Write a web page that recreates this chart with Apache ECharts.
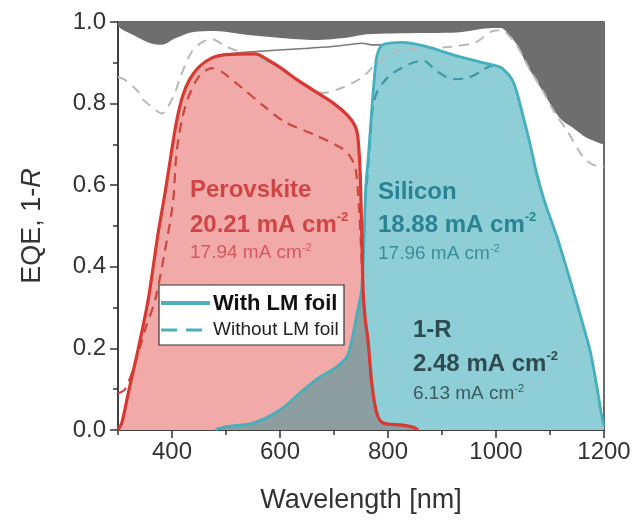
<!DOCTYPE html>
<html>
<head>
<meta charset="utf-8">
<script src="https://cdn.jsdelivr.net/npm/echarts@6/dist/echarts.min.js"></script>
<style>html,body{margin:0;padding:0;background:#fff;}#c{width:633px;height:521px;}</style>
</head>
<body>
<div id="c"></div>
<script>
// ---- tick values ----
const xMajorTicks = [400, 600, 800, 1000, 1200];
const xMinorTicks = [300, 500, 700, 900, 1100];

// ---- data: [wavelength nm, value] ----
const reflectTop = [[300,0.99],[307,0.982],[331,0.966],[356,0.95],[381,0.944],[406,0.96],[437,0.975],[480,0.978],[541,0.968],[602,0.961],[665,0.956],[726,0.962],[760,0.97],[809,0.972],[872,0.973],[933,0.975],[994,0.985],[1010,0.985],[1020,0.975],[1039,0.944],[1057,0.895],[1076,0.853],[1094,0.814],[1118,0.765],[1143,0.74],[1168,0.716],[1192,0.703],[1200,0.70]];

const oneMinusRNoFoil = [[300,0.865],[313,0.858],[337,0.83],[344,0.813],[369,0.785],[381,0.776],[402,0.816],[417,0.87],[436,0.926],[455,0.95],[474,0.958],[500,0.94],[530,0.925],[560,0.912],[600,0.885],[650,0.845],[680,0.826],[717,0.84],[754,0.866],[780,0.9],[820,0.93],[870,0.935],[920,0.94],[962,0.95],[994,0.978],[1010,0.98],[1025,0.965],[1040,0.94],[1060,0.89],[1087,0.83],[1110,0.775],[1131,0.735],[1161,0.67],[1180,0.65],[1200,0.645]];

const sumEQE = [[470,0.91],[508,0.922],[545,0.927],[583,0.93],[645,0.935],[697,0.94],[730,0.945],[752,0.948],[770,0.944],[790,0.944]];

const perovWith = [[300,0.0],[307,0.017],[319,0.09],[337,0.196],[356,0.32],[374,0.48],[387,0.58],[400,0.69],[409,0.76],[420,0.82],[433,0.86],[450,0.89],[474,0.912],[500,0.92],[554,0.922],[580,0.905],[602,0.887],[630,0.86],[665,0.83],[700,0.80],[726,0.77],[739,0.745],[744,0.72],[748,0.645],[750,0.56],[752,0.45],[754,0.34],[758,0.27],[763,0.22],[770,0.115],[779,0.042],[791,0.017],[827,0.012],[846,0.007],[856,0.0]];

const perovWithout = [[300,0.09],[313,0.1],[332,0.164],[350,0.245],[369,0.32],[387,0.44],[402,0.56],[409,0.686],[424,0.79],[448,0.863],[474,0.887],[493,0.877],[530,0.838],[572,0.792],[609,0.755],[665,0.723],[715,0.69],[730,0.67],[740,0.64],[746,0.55],[750,0.45],[754,0.33],[763,0.21],[770,0.11],[780,0.04],[791,0.017]];

const siWith = [[480,0.0],[500,0.008],[550,0.017],[600,0.049],[643,0.098],[674,0.13],[705,0.155],[724,0.18],[733,0.22],[739,0.26],[745,0.30],[751,0.343],[755,0.45],[759,0.6],[763,0.66],[768,0.75],[772,0.82],[776,0.88],[780,0.92],[790,0.944],[827,0.95],[870,0.94],[932,0.915],[993,0.895],[1011,0.887],[1032,0.853],[1050,0.77],[1065,0.69],[1075,0.63],[1090,0.56],[1113,0.473],[1130,0.40],[1150,0.31],[1165,0.24],[1175,0.19],[1187,0.105],[1195,0.04],[1200,0.01]];

const siWithout = [[758,0.56],[763,0.64],[768,0.73],[772,0.79],[780,0.83],[790,0.85],[809,0.875],[846,0.9],[865,0.905],[890,0.88],[920,0.86],[945,0.862],[969,0.876],[993,0.893],[1005,0.89]];

const overlapRegion = [[480,0.0],[500,0.008],[550,0.017],[600,0.049],[643,0.098],[674,0.13],[705,0.155],[724,0.18],[733,0.22],[739,0.26],[745,0.30],[751,0.343],[753,0.39],[754,0.34],[758,0.27],[763,0.22],[770,0.115],[779,0.042],[791,0.017],[827,0.012],[846,0.007],[856,0.0]];

const font = "'Liberation Sans', Arial, Helvetica, sans-serif";
const axisCol = '#333';
const tickStyle = {color: axisCol, width: 1.5};

function fillSeries(data, color, origin) {
  return {type:'line', data, symbol:'none', smooth:0.3,
    lineStyle:{width:0}, areaStyle:{color, opacity:1, origin: origin || 'auto'}, silent:true};
}
function lineSeries(data, color, width, dash) {
  return {type:'line', data, symbol:'none', smooth:0.3,
    lineStyle:{color, width, type: dash ? dash : 'solid', cap:'butt', join:'round'}, silent:true};
}

const G = 100; // graphic z
const option = {
  animation: false,
  backgroundColor: '#fff',
  grid: {left:118, right:29, top:22, bottom:91, show:true, borderColor:'#3a3a3a', borderWidth:1.5,
         backgroundColor:'transparent', containLabel:false, outerBoundsMode:'none'},
  xAxis: [{
    type:'value', min:300, max:1200,
    axisLine:{show:true, lineStyle:tickStyle},
    axisTick:{show:true, customValues:xMajorTicks, length:8, lineStyle:tickStyle},
    axisLabel:{customValues:xMajorTicks, formatter:v => String(v), margin:10, fontSize:24, color:axisCol, fontFamily:font},
    splitLine:{show:false},
    name:'Wavelength [nm]', nameLocation:'middle', nameGap:57,
    nameTextStyle:{fontSize:27, color:axisCol, fontFamily:font}
  },{
    type:'value', min:300, max:1200, position:'bottom',
    axisLine:{show:false},
    axisTick:{show:true, customValues:xMinorTicks, length:5, lineStyle:tickStyle},
    axisLabel:{show:false}, splitLine:{show:false}
  }],
  yAxis: {
    type:'value', min:0, max:1, interval:0.2,
    axisLine:{show:true, lineStyle:tickStyle},
    axisTick:{show:true, length:8, lineStyle:tickStyle},
    minorTick:{show:true, splitNumber:2, length:5, lineStyle:tickStyle},
    axisLabel:{formatter:v => v.toFixed(1), margin:12, fontSize:24, color:axisCol, fontFamily:font},
    splitLine:{show:false},
    name:'{n|EQE, 1-}{i|R}', nameLocation:'middle', nameGap:72, nameRotate:90,
    nameTextStyle:{rich:{
      n:{fontSize:27, color:axisCol, fontFamily:font},
      i:{fontSize:27, color:axisCol, fontFamily:font, fontStyle:'italic'}
    }}
  },
  series: [
    fillSeries(reflectTop, '#6e6e6e', 'end'),
    lineSeries(oneMinusRNoFoil, '#b9b9b9', 2, [10,7]),
    fillSeries(perovWith, '#f2aaa8'),
    fillSeries(siWith, '#8dced7'),
    fillSeries(overlapRegion, '#8d9ea1'),
    lineSeries(sumEQE, '#7a7a7a', 1.6),
    lineSeries(perovWithout, '#c9473f', 2.2, [10,7]),
    lineSeries(siWithout, '#3f97a5', 2.2, [10,7]),
    lineSeries(siWith, '#45afbc', 2.8),
    lineSeries(perovWith, '#d73a32', 3.2)
  ],
  graphic: {elements: [
    {type:'text', z:G, x:190, y:190, style:{text:'Perovskite', font:'bold 24px '+font, fill:'#cf4545', verticalAlign:'middle'}},
    {type:'text', z:G, x:190, y:225, style:{text:'{b|20.21 mA cm}{s|-2}', verticalAlign:'middle', rich:{
      b:{font:'bold 24px '+font, fill:'#cf4545', lineHeight:28},
      s:{font:'bold 13px '+font, fill:'#cf4545', lineHeight:14, verticalAlign:'top'}}}},
    {type:'text', z:G, x:190, y:253, style:{text:'{b|17.94 mA cm}{s|-2}', verticalAlign:'middle', rich:{
      b:{font:'19px '+font, fill:'#d15a5a', lineHeight:22},
      s:{font:'11px '+font, fill:'#d15a5a', lineHeight:12, verticalAlign:'top'}}}},

    {type:'text', z:G, x:378, y:192, style:{text:'Silicon', font:'bold 24px '+font, fill:'#2a8393', verticalAlign:'middle'}},
    {type:'text', z:G, x:378, y:225, style:{text:'{b|18.88 mA cm}{s|-2}', verticalAlign:'middle', rich:{
      b:{font:'bold 24px '+font, fill:'#2a8393', lineHeight:28},
      s:{font:'bold 13px '+font, fill:'#2a8393', lineHeight:14, verticalAlign:'top'}}}},
    {type:'text', z:G, x:378, y:254, style:{text:'{b|17.96 mA cm}{s|-2}', verticalAlign:'middle', rich:{
      b:{font:'19px '+font, fill:'#3a8d9a', lineHeight:22},
      s:{font:'11px '+font, fill:'#3a8d9a', lineHeight:12, verticalAlign:'top'}}}},

    {type:'text', z:G, x:413, y:330, style:{text:'1-R', font:'bold 24px '+font, fill:'#2f4a50', verticalAlign:'middle'}},
    {type:'text', z:G, x:413, y:364, style:{text:'{b|2.48 mA cm}{s|-2}', verticalAlign:'middle', rich:{
      b:{font:'bold 24px '+font, fill:'#2f4a50', lineHeight:28},
      s:{font:'bold 13px '+font, fill:'#2f4a50', lineHeight:14, verticalAlign:'top'}}}},
    {type:'text', z:G, x:413, y:394, style:{text:'{b|6.13 mA cm}{s|-2}', verticalAlign:'middle', rich:{
      b:{font:'19px '+font, fill:'#3c5a60', lineHeight:22},
      s:{font:'11px '+font, fill:'#3c5a60', lineHeight:12, verticalAlign:'top'}}}},

    {type:'rect', z:G, shape:{x:159, y:285, width:185, height:60}, style:{fill:'#fff', stroke:'#333', lineWidth:1.2}},
    {type:'line', z:G+1, shape:{x1:161, y1:303, x2:210, y2:303}, style:{stroke:'#4fb0bd', lineWidth:4}},
    {type:'line', z:G+1, shape:{x1:161, y1:330, x2:203, y2:330}, style:{stroke:'#4fb0bd', lineWidth:3, lineDash:[16,9]}},
    {type:'text', z:G+1, x:213, y:304, style:{text:'With LM foil', font:'bold 22px '+font, fill:'#111', verticalAlign:'middle'}},
    {type:'text', z:G+1, x:213, y:330, style:{text:'Without LM foil', font:'19px '+font, fill:'#222', verticalAlign:'middle'}}
  ]}
};

const chart = echarts.init(document.getElementById('c'), null, {renderer:'canvas'});
chart.setOption(option);
</script>
</body>
</html>
